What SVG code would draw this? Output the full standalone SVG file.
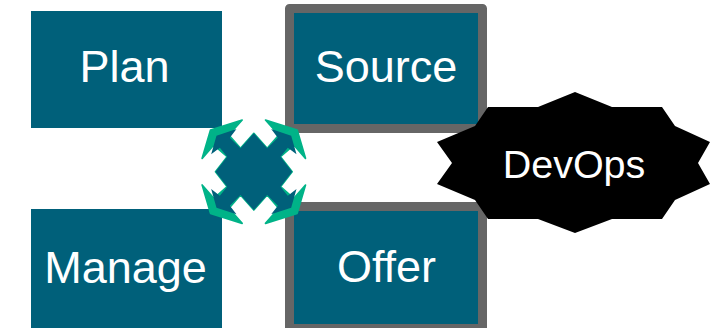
<svg xmlns="http://www.w3.org/2000/svg" width="710" height="328" viewBox="0 0 710 328">
<style>
.box{fill:#00607a}
.frame{fill:#00607a;stroke:#666;stroke-width:9;stroke-linejoin:round}
.t{font-family:"Liberation Sans",Arial,sans-serif;fill:#fff;text-anchor:middle;font-size:45px}
</style>
<rect width="710" height="328" fill="#fff"/>
<g id="plan"><rect class="box" x="31" y="11" width="191" height="117"/><text class="t" x="124.500" y="82">Plan</text></g>
<g id="manage"><rect class="box" x="31" y="209" width="191" height="119"/><text class="t" x="125.500" y="283">Manage</text></g>
<g id="source"><rect class="frame" x="289.500" y="8.500" width="193" height="120"/><text class="t" x="386" y="82">Source</text></g>
<g id="offer"><rect class="frame" x="289.500" y="206.500" width="193" height="122"/><text class="t" x="386.500" y="282">Offer</text></g>
<g id="devops"><polygon fill="#000" points="575,92 538,107 488,107 475,126 437,142 452,163 437,184 475,200 488,219 538,219 575,233 612,219 662,219 675,200 710,184 698,163 710,142 675,126 662,107 612,107"/><text class="t" x="574" y="178" style="font-size:39.500px">DevOps</text></g>
<g id="hub" transform="translate(190.500 105) scale(.33333)">
<polygon fill="#00b388" stroke="#00b388" stroke-width="5" stroke-linejoin="round" points="155,45 60,75 35,160 70,120 110,155 75,200 110,245 70,280 35,240 60,325 155,355 115,310 150,270 190,315 230,270 265,310 225,355 320,325 345,240 310,280 270,245 305,200 270,155 310,120 345,160 320,75 225,45 265,90 230,130 190,85 150,130 115,90"/>
<polygon fill="#00607a" points="190,85 230,130 262,98 242,72 302,92 318,148 292,128 270,155 305,200 270,245 292,272 318,252 302,308 242,328 262,302 230,270 190,315 150,270 118,302 138,328 78,308 62,252 88,272 110,245 75,200 110,155 88,128 62,148 78,92 138,72 118,98 150,130"/>
</g>
</svg>
